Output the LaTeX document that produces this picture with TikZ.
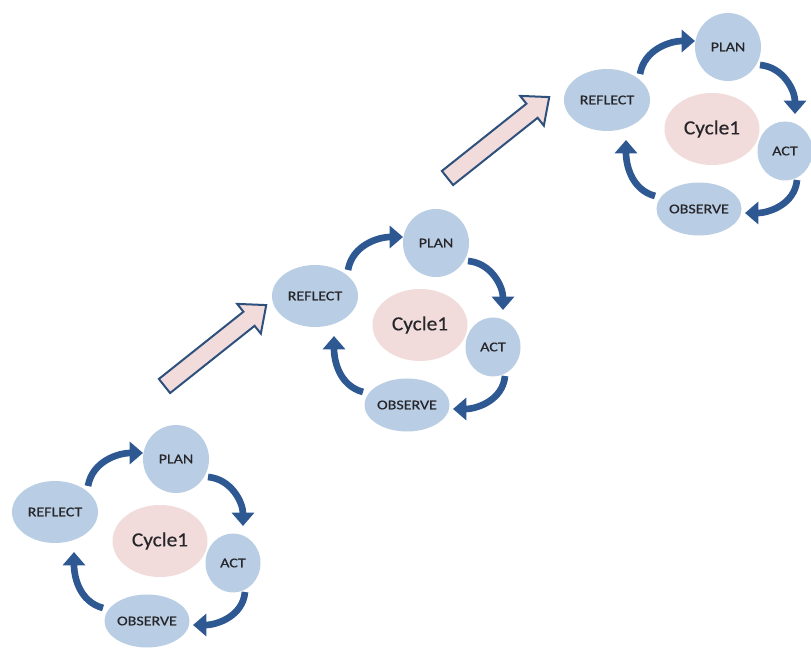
\documentclass[tikz,border=0pt]{standalone}
\usepackage{fontspec}
\setmainfont{Carlito}
\newfontfamily\stagefont[FakeStretch=1.2,FakeBold=0.6]{Carlito}
\newfontfamily\corefont[FakeStretch=1.07,FakeBold=0.4]{Carlito}
\usetikzlibrary{arrows.meta,shapes.geometric}
\definecolor{stageblue}{RGB}{185,205,228}
\definecolor{corepink}{RGB}{242,220,219}
\definecolor{flowblue}{RGB}{46,88,146}
\definecolor{labelgray}{RGB}{38,38,42}
\definecolor{stepborder}{RGB}{45,80,125}
\begin{document}
\begin{tikzpicture}[x=0.75pt,y=-0.75pt,
  stage/.style={ellipse,fill=stageblue,inner sep=0pt,text=labelgray,
    font=\stagefont\fontsize{10}{12}\selectfont},
  core/.style={ellipse,fill=corepink,inner sep=0pt,text=labelgray,
    font=\corefont\fontsize{15}{18}\selectfont},
  flow/.style={draw=flowblue,line width=5pt,
    -{Triangle[length=10pt,width=16.5pt]}},
  stepup/.style={draw=stepborder,line width=1.5pt,fill=corepink,line join=miter}]

% page frame
\fill[white] (0,0) rectangle (811,648);
\useasboundingbox (0,0) rectangle (811,648);

% rising arrows between the cycles
\foreach \bx/\by in {164.5/386, 447.5/178}{
  \begin{scope}[shift={(\bx,\by)},rotate=38.5]
    \draw[stepup] (0,-9) -- (108,-9) -- (108,-19) -- (130,0)
      -- (108,19) -- (108,9) -- (0,9) -- cycle;
  \end{scope}
}

% three action-research cycles
\foreach \i/\dx/\dy in {1/0/0, 2/260/-216, 3/552/-412}{
  \begin{scope}[shift={(\dx,\dy)}]
    \node[core,  minimum width=71.25pt, minimum height=54pt]    (c\i) at (160,541) {Cycle1};
    \node[stage, minimum width=64.5pt,  minimum height=46.5pt]  (r\i) at (55,512)  {REFLECT};
    \node[stage, minimum width=49.5pt,  minimum height=51pt]    (p\i) at (176,459) {PLAN};
    \node[stage, minimum width=41.25pt, minimum height=44.25pt] (a\i) at (233,563) {ACT};
    \node[stage, minimum width=63.75pt, minimum height=39.75pt] (o\i) at (147,621) {OBSERVE};
  \end{scope}
  \draw[flow] ([shift={(33,-26)}]r\i.center) to[out=80,in=180]  ([shift={(-33,-6)}]p\i.center);
  \draw[flow] ([shift={(32,18)}]p\i.center)  to[out=-5,in=90]   ([shift={(10,-37)}]a\i.center);
  \draw[flow] ([shift={(12,29)}]a\i.center)  to[out=-95,in=0]   ([shift={(46,4)}]o\i.center);
  \draw[flow] ([shift={(-44,-13)}]o\i.center) to[out=165,in=-90] ([shift={(19,40)}]r\i.center);
}
\end{tikzpicture}
\end{document}
